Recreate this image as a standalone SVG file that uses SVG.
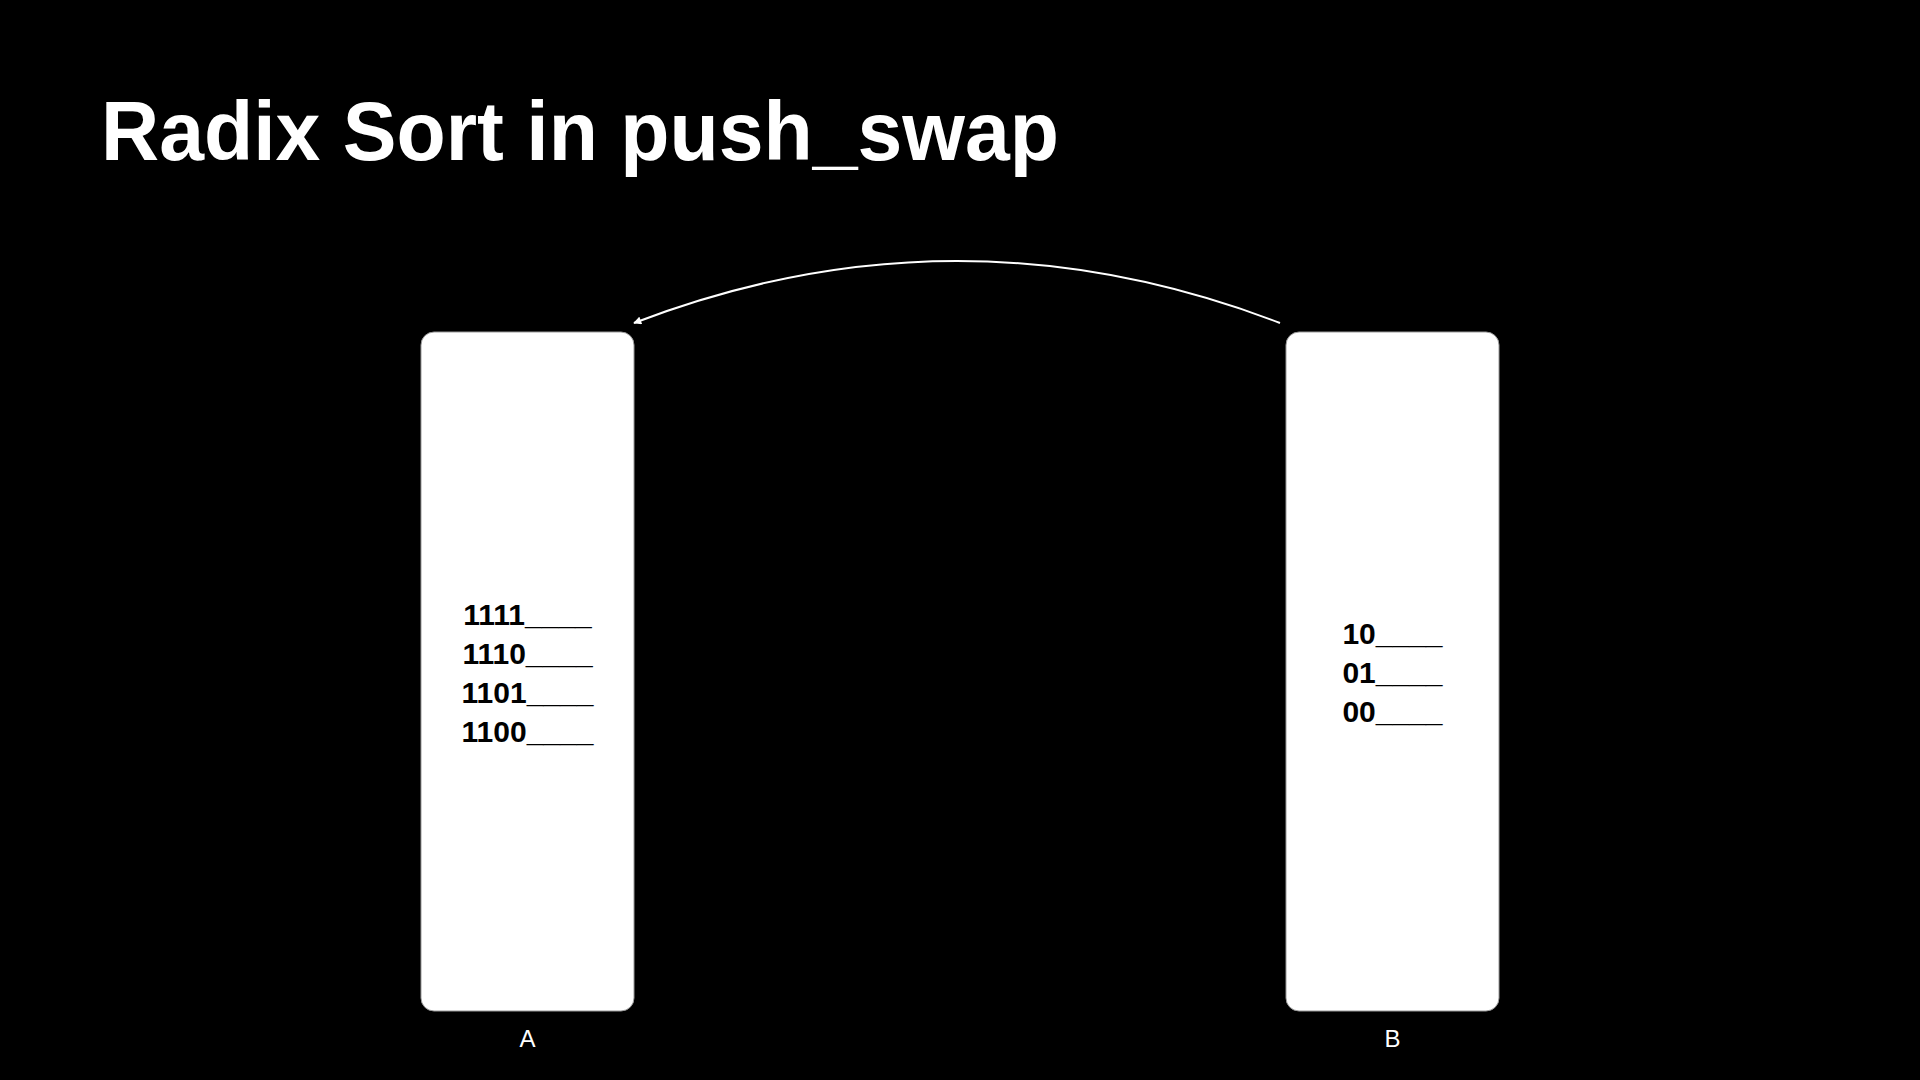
<svg xmlns="http://www.w3.org/2000/svg" width="1920" height="1080" viewBox="0 0 1920 1080">
<style>
.title{font-family:"Liberation Sans",Arial,sans-serif;font-weight:bold;font-size:84px;fill:#fff}
.box{fill:#fff;stroke:#999;stroke-width:1}
.val{font-family:"Liberation Sans",Arial,sans-serif;font-weight:bold;font-size:30px;fill:#000;text-anchor:middle}
.lbl{font-family:"Liberation Sans",Arial,sans-serif;font-size:24px;fill:#fff;text-anchor:middle}
.conn{fill:none;stroke:#fff;stroke-width:2}
</style>
<defs>
<marker id="ah" viewBox="0 0 10 10" refX="9" refY="5" markerWidth="9" markerHeight="8" orient="auto" markerUnits="userSpaceOnUse">
<path d="M0,0 L10,5 L0,10 Z" fill="#fff"/>
</marker>
</defs>
<rect width="1920" height="1080" fill="#000"/>
<text class="title" x="101" y="160" textLength="958" lengthAdjust="spacingAndGlyphs">Radix Sort in push_swap</text>
<g id="stackA">
<rect class="box" x="421" y="332" width="213" height="679" rx="13"/>
<text class="val" x="527.5" y="625">1111____</text>
<text class="val" x="527.5" y="664">1110____</text>
<text class="val" x="527.5" y="703">1101____</text>
<text class="val" x="527.5" y="742">1100____</text>
<text class="lbl" x="527.5" y="1047">A</text>
</g>
<g id="stackB">
<rect class="box" x="1286" y="332" width="213" height="679" rx="13"/>
<text class="val" x="1392.5" y="644">10____</text>
<text class="val" x="1392.5" y="683">01____</text>
<text class="val" x="1392.5" y="722">00____</text>
<text class="lbl" x="1392.5" y="1047">B</text>
</g>
<g id="connectors">
<path class="conn" d="M1280,323 Q957,199 634,323" marker-end="url(#ah)"/>
</g>
</svg>
